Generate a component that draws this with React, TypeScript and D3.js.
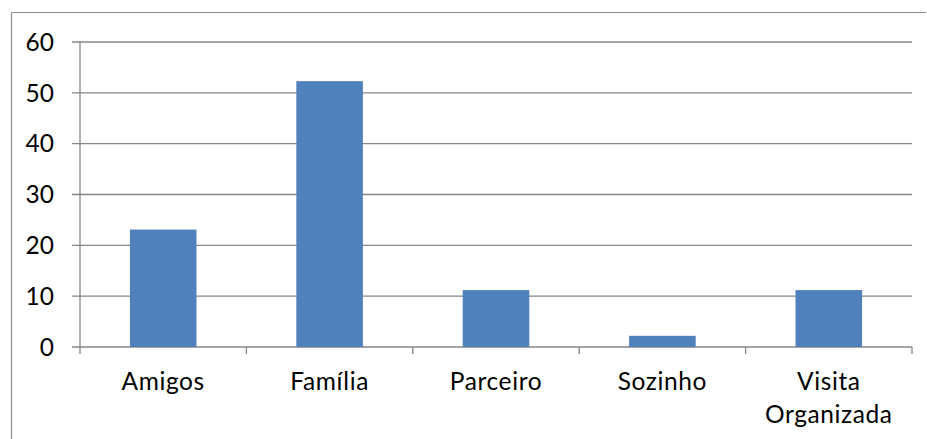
import React, { useEffect } from "react";
import * as d3 from "d3";

const categories: string[][] = [["Amigos"], ["Família"], ["Parceiro"], ["Sozinho"], ["Visita", "Organizada"]];
const values: number[] = [23.1, 52.3, 11.2, 2.2, 11.2];
const yTicks: number[] = [0, 10, 20, 30, 40, 50, 60];

const W = 927;
const H = 439;
const plot = { left: 80, right: 912, top: 42, bottom: 347 };
const font = "Lato, Carlito, Calibri, 'Open Sans', sans-serif";
const fontSize = 24.5;
const gridColor = "#868686";

export default function App() {
  useEffect(() => {
    document.body.style.margin = "0";
    document.body.style.overflow = "hidden";
  }, []);

  const keys = categories.map((c) => c.join(" "));
  const x = d3.scaleBand<string>().domain(keys).range([plot.left, plot.right]).paddingInner(0.6).paddingOuter(0.3);
  const band = d3.scaleBand<string>().domain(keys).range([plot.left, plot.right]).padding(0);
  const y = d3.scaleLinear().domain([0, 60]).range([plot.bottom, plot.top]);

  return (
    <svg width={W} height={H} style={{ display: "block", background: "#fff" }}>
      {/* chart frame: only its top and left edges fall inside the view */}
      <line x1={11.5} x2={W - 1} y1={12.5} y2={12.5} stroke="#8c8c8c" strokeWidth={1.2} />
      <line x1={11.5} x2={11.5} y1={12.5} y2={H} stroke="#8c8c8c" strokeWidth={1.2} />
      {yTicks.map((t) => (
        <g key={t}>
          <line x1={plot.left - 8} x2={plot.right} y1={y(t)} y2={y(t)} stroke={gridColor} strokeWidth={1.3} />
          <text x={54} y={y(t)} dy="0.36em" textAnchor="end" fontFamily={font} fontSize={fontSize} fill="#000">
            {t}
          </text>
        </g>
      ))}
      <line x1={plot.left} x2={plot.left} y1={plot.top} y2={plot.bottom} stroke={gridColor} strokeWidth={1.3} />
      {keys.map((k, i) => (
        <rect key={k} x={x(k)} y={y(values[i])} width={x.bandwidth()} height={y(0) - y(values[i])} fill="#4F81BD" />
      ))}
      {[...keys.map((k) => band(k) as number), plot.right].map((tx, i) => (
        <line key={i} x1={tx} x2={tx} y1={plot.bottom} y2={plot.bottom + 7} stroke={gridColor} strokeWidth={1.3} />
      ))}
      {categories.map((lines, i) => {
        const cx = (band(keys[i]) as number) + band.bandwidth() / 2;
        return (
          <text key={i} textAnchor="middle" fontFamily={font} fontSize={fontSize} fill="#000" letterSpacing={0.6}>
            {lines.map((ln, j) => (
              <tspan key={j} x={cx} y={390 + j * 33}>
                {ln}
              </tspan>
            ))}
          </text>
        );
      })}
    </svg>
  );
}
